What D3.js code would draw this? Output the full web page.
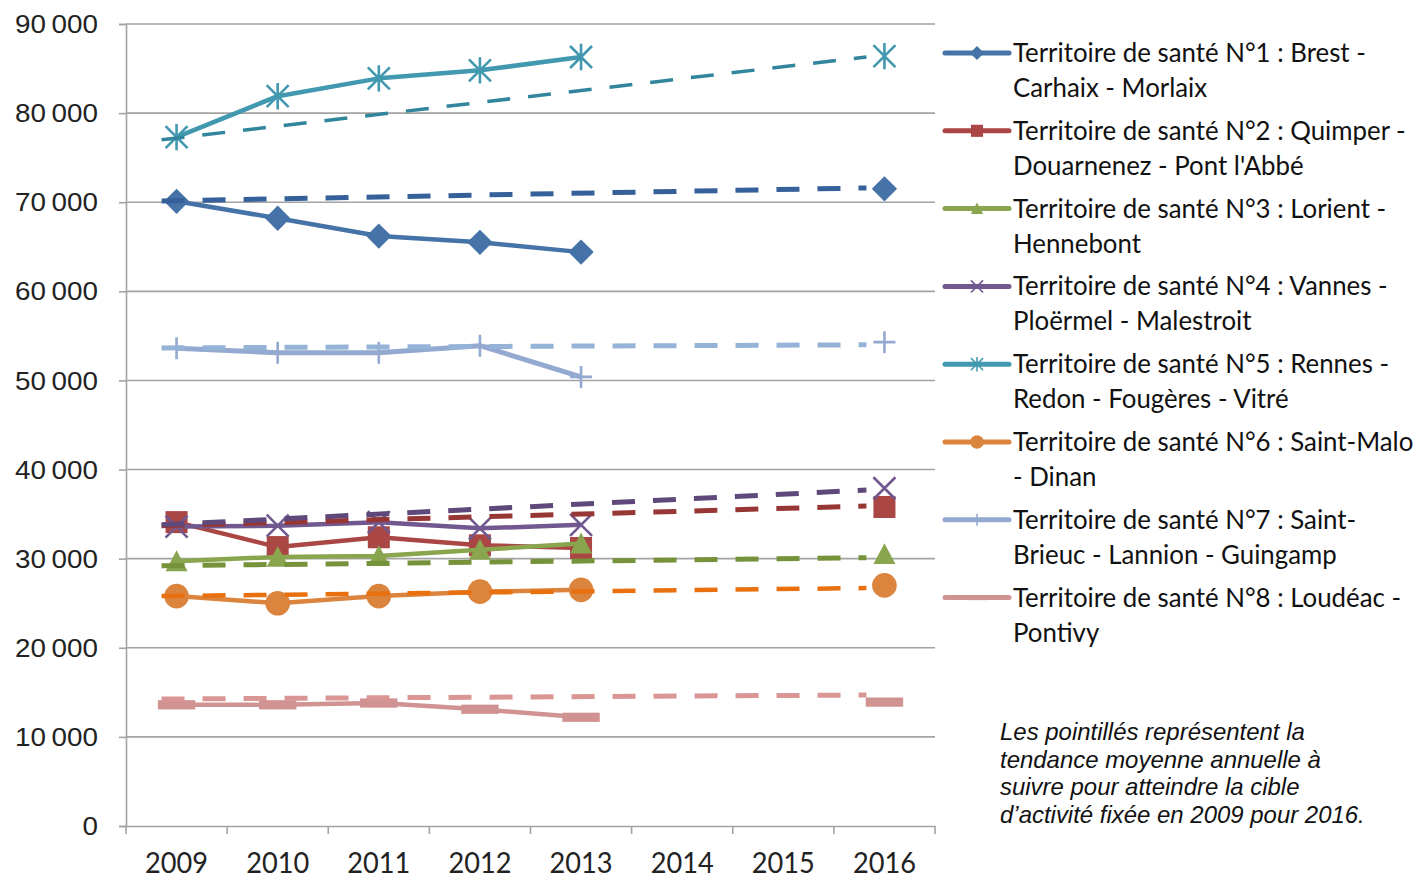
<!DOCTYPE html>
<html><head><meta charset="utf-8">
<script src="https://cdn.jsdelivr.net/npm/d3@7"></script>
<style>body{margin:0;background:#fff}</style>
</head><body><svg id="c" width="1427" height="878"></svg>
<script>
// ---------- DATA ----------
const years = ["2009","2010","2011","2012","2013","2014","2015","2016"];
const observedYears = ["2009","2010","2011","2012","2013"];
const targetYear = "2016";
const seriesNames = [
  ["Territoire de santé N°1 : Brest -", "Carhaix - Morlaix"],
  ["Territoire de santé N°2 : Quimper -", "Douarnenez - Pont l'Abbé"],
  ["Territoire de santé N°3 : Lorient -", "Hennebont"],
  ["Territoire de santé N°4 : Vannes -", "Ploërmel - Malestroit"],
  ["Territoire de santé N°5 : Rennes -", "Redon - Fougères - Vitré"],
  ["Territoire de santé N°6 : Saint-Malo", "- Dinan"],
  ["Territoire de santé N°7 : Saint-", "Brieuc - Lannion - Guingamp"],
  ["Territoire de santé N°8 : Loudéac -", "Pontivy"]
];
const ts1 = [70100, 68200, 66200, 65500, 64400];
const ts2 = [34100, 31300, 32400, 31500, 31200];
const ts3 = [29700, 30200, 30300, 31000, 31700];
const ts4 = [33600, 33700, 34100, 33400, 33800];
const ts5 = [77300, 81900, 83900, 84800, 86300];
const ts6 = [25800, 25000, 25800, 26300, 26500];
const ts7 = [53600, 53100, 53100, 53900, 50400];
const ts8 = [13600, 13600, 13800, 13100, 12200];
const target2016 = [71500, 35800, 30500, 37900, 86400, 27000, 54300, 13900];
const trendStart = [70150, 33700, 29200, 33800, 77000, 25800, 53650, 14250];
const trendEnd   = [71600, 35900, 30100, 37700, 86300, 26700, 54000, 14700];
const yTicks = [0,10000,20000,30000,40000,50000,60000,70000,80000,90000];
const yTickLabels = ["0","10\u202F000","20\u202F000","30\u202F000","40\u202F000","50\u202F000","60\u202F000","70\u202F000","80\u202F000","90\u202F000"];
const noteLines = [
  "Les pointillés représentent la",
  "tendance moyenne annuelle à",
  "suivre pour atteindre la cible",
  "d’activité fixée en 2009 pour 2016."
];
const observed = [ts1, ts2, ts3, ts4, ts5, ts6, ts7, ts8];

// ---------- STYLES ----------
const lineColors  = ["#4572A7","#AA4643","#89A54E","#71588F","#4198AF","#DB843D","#93A9CF","#D19392"];
const trendColors = ["#36609A","#973735","#76933C","#5F497A","#31859C","#E8700F","#95B3D7","#D99694"];
const trendWidths = [5, 5, 5, 5, 3.5, 4.5, 5, 5];
const markerTypes = ["diamond","square","triangle","x","asterisk","circle","plus","dash"];

const svg = d3.select("#c");
const x = d3.scaleBand().domain(years).range([126, 935]).paddingInner(0).paddingOuter(0);
const cx = d => x(d) + x.bandwidth()/2;
const y = d3.scaleLinear().domain([0, 90000]).range([826, 24]);

// gridlines
svg.append("g").selectAll("line").data(yTicks.filter(t => t > 0)).join("line")
  .attr("x1", 126).attr("x2", 935).attr("y1", d => y(d)).attr("y2", d => y(d))
  .attr("stroke", "#a3a3a3").attr("stroke-width", 1.6);

// y axis
const yAxis = d3.axisLeft(y).tickValues(yTicks).tickSize(7).tickFormat((d,i) => yTickLabels[i]);
const gy = svg.append("g").attr("transform", "translate(126,0)").call(yAxis);
gy.select(".domain").attr("stroke", "#a3a3a3").attr("stroke-width", 1.6);
gy.selectAll(".tick line").attr("stroke", "#a3a3a3").attr("stroke-width", 1.6);
gy.selectAll(".tick text").remove();
// y labels (stretched to match)
const yl = svg.append("g");
let yScale = 1;
const yTexts = yTicks.map((t, i) => yl.append("text").text(yTickLabels[i])
    .attr("font-family", "Liberation Sans, Arial, sans-serif").attr("font-size", 26)
    .attr("fill", "#222").attr("text-anchor", "end").attr("dy", "0.35em"));
yScale = 83 / yTexts[9].node().getComputedTextLength();
yTexts.forEach((tx, i) => tx.attr("transform", `translate(98,${y(yTicks[i])}) scale(${yScale},1)`));

// x axis
const xAxis = d3.axisBottom(x).tickSize(0).tickFormat("");
const gx = svg.append("g").attr("transform", "translate(0,826)").call(xAxis);
gx.select(".domain").attr("stroke", "#a3a3a3").attr("stroke-width", 1.6);
svg.append("g").selectAll("line").data(years.concat(["end"])).join("line")
  .attr("x1", d => d === "end" ? 935 : x(d)).attr("x2", d => d === "end" ? 935 : x(d))
  .attr("y1", 826).attr("y2", 834).attr("stroke", "#a3a3a3").attr("stroke-width", 1.6);
const xl = svg.append("g");
let xScale = 1;
years.forEach((yr, i) => {
  const t = xl.append("text").text(yr)
    .attr("font-family", "Lato, 'Open Sans', sans-serif").attr("font-size", 29)
    .attr("fill", "#222").attr("text-anchor", "middle");
  if (i === 0) xScale = 63 / t.node().getComputedTextLength();
  t.attr("transform", `translate(${cx(yr)},873) scale(${xScale},1)`);
});

// marker drawing
function drawMarker(g, type, px, py, color, s) {
  const r = 11 * s;
  if (type === "diamond") {
    g.append("path").attr("d", `M${px},${py-r*1.15}L${px+r*1.15},${py}L${px},${py+r*1.15}L${px-r*1.15},${py}Z`).attr("fill", color);
  } else if (type === "square") {
    g.append("rect").attr("x", px-r).attr("y", py-r).attr("width", 2*r).attr("height", 2*r).attr("fill", color);
  } else if (type === "triangle") {
    g.append("path").attr("d", `M${px},${py-r}L${px+r},${py+r*0.9}L${px-r},${py+r*0.9}Z`).attr("fill", color);
  } else if (type === "circle") {
    g.append("circle").attr("cx", px).attr("cy", py).attr("r", r*1.12).attr("fill", color);
  } else if (type === "x") {
    g.append("path").attr("d", `M${px-r},${py-r}L${px+r},${py+r}M${px-r},${py+r}L${px+r},${py-r}`)
      .attr("stroke", color).attr("stroke-width", 2.6*Math.max(s,0.6)).attr("fill", "none");
  } else if (type === "asterisk") {
    g.append("path").attr("d", `M${px-r},${py-r}L${px+r},${py+r}M${px-r},${py+r}L${px+r},${py-r}M${px},${py-r*1.2}L${px},${py+r*1.2}`)
      .attr("stroke", color).attr("stroke-width", 2.6*Math.max(s,0.6)).attr("fill", "none");
  } else if (type === "plus") {
    g.append("path").attr("d", `M${px-r},${py}L${px+r},${py}M${px},${py-r}L${px},${py+r}`)
      .attr("stroke", color).attr("stroke-width", 2.6*Math.max(s,0.6)).attr("fill", "none");
  } else if (type === "dash") {
    g.append("rect").attr("x", px-r*1.7).attr("y", py-r*0.42).attr("width", r*3.4).attr("height", r*0.84).attr("fill", color);
  }
}

// observed series
const line = d3.line().x(d => cx(d.year)).y(d => y(d.v));
const sg = svg.append("g");
observed.forEach((vals, i) => {
  const pts = vals.map((v, j) => ({year: observedYears[j], v}));
  const g = sg.append("g");
  g.append("path").attr("d", line(pts)).attr("fill", "none")
    .attr("stroke", lineColors[i]).attr("stroke-width", i === 6 ? 5 : 4.5).attr("stroke-linejoin", "round");
  pts.forEach(p => drawMarker(g, markerTypes[i], cx(p.year), y(p.v), lineColors[i], 1));
  drawMarker(g, markerTypes[i], cx(targetYear), y(target2016[i]), lineColors[i], 1);
});

// trend (dashed) lines
const tg = svg.append("g");
trendStart.forEach((v, i) => {
  tg.append("line")
    .attr("x1", cx(years[0]) - 15).attr("y1", y(v))
    .attr("x2", cx(targetYear) - 18).attr("y2", y(trendEnd[i]))
    .attr("stroke", trendColors[i]).attr("stroke-width", trendWidths[i])
    .attr("stroke-dasharray", "23,18");
});

// legend
const lg = svg.append("g");
let lScale = 1;
seriesNames.forEach((nm, i) => {
  const ly = 53 + i * 77.8;
  lg.append("line").attr("x1", 945).attr("x2", 1009).attr("y1", ly).attr("y2", ly)
    .attr("stroke", lineColors[i]).attr("stroke-width", 5).attr("stroke-linecap", "round");
  drawMarker(lg, markerTypes[i], 977, ly, lineColors[i], 0.55);
  nm.forEach((t, k) => {
    const tx = lg.append("text").text(t)
      .attr("font-family", "Lato, 'Open Sans', sans-serif").attr("font-size", 27)
      .attr("fill", "#111");
    if (i === 0 && k === 0) lScale = 353 / tx.node().getComputedTextLength();
    tx.attr("transform", `translate(1013,${ly + 9 + k * 35}) scale(${lScale},1)`);
  });
});

// note
const ng = svg.append("g");
const nTexts = noteLines.map(t => ng.append("text").text(t)
    .attr("font-family", "Liberation Sans, Arial, sans-serif").attr("font-style", "italic")
    .attr("font-size", 23).attr("fill", "#111"));
const nScale = 365 / nTexts[3].node().getComputedTextLength();
nTexts.forEach((tx, k) => tx.attr("transform", `translate(1000,${740 + k * 27.7}) scale(${nScale},1)`));
</script></body></html>
